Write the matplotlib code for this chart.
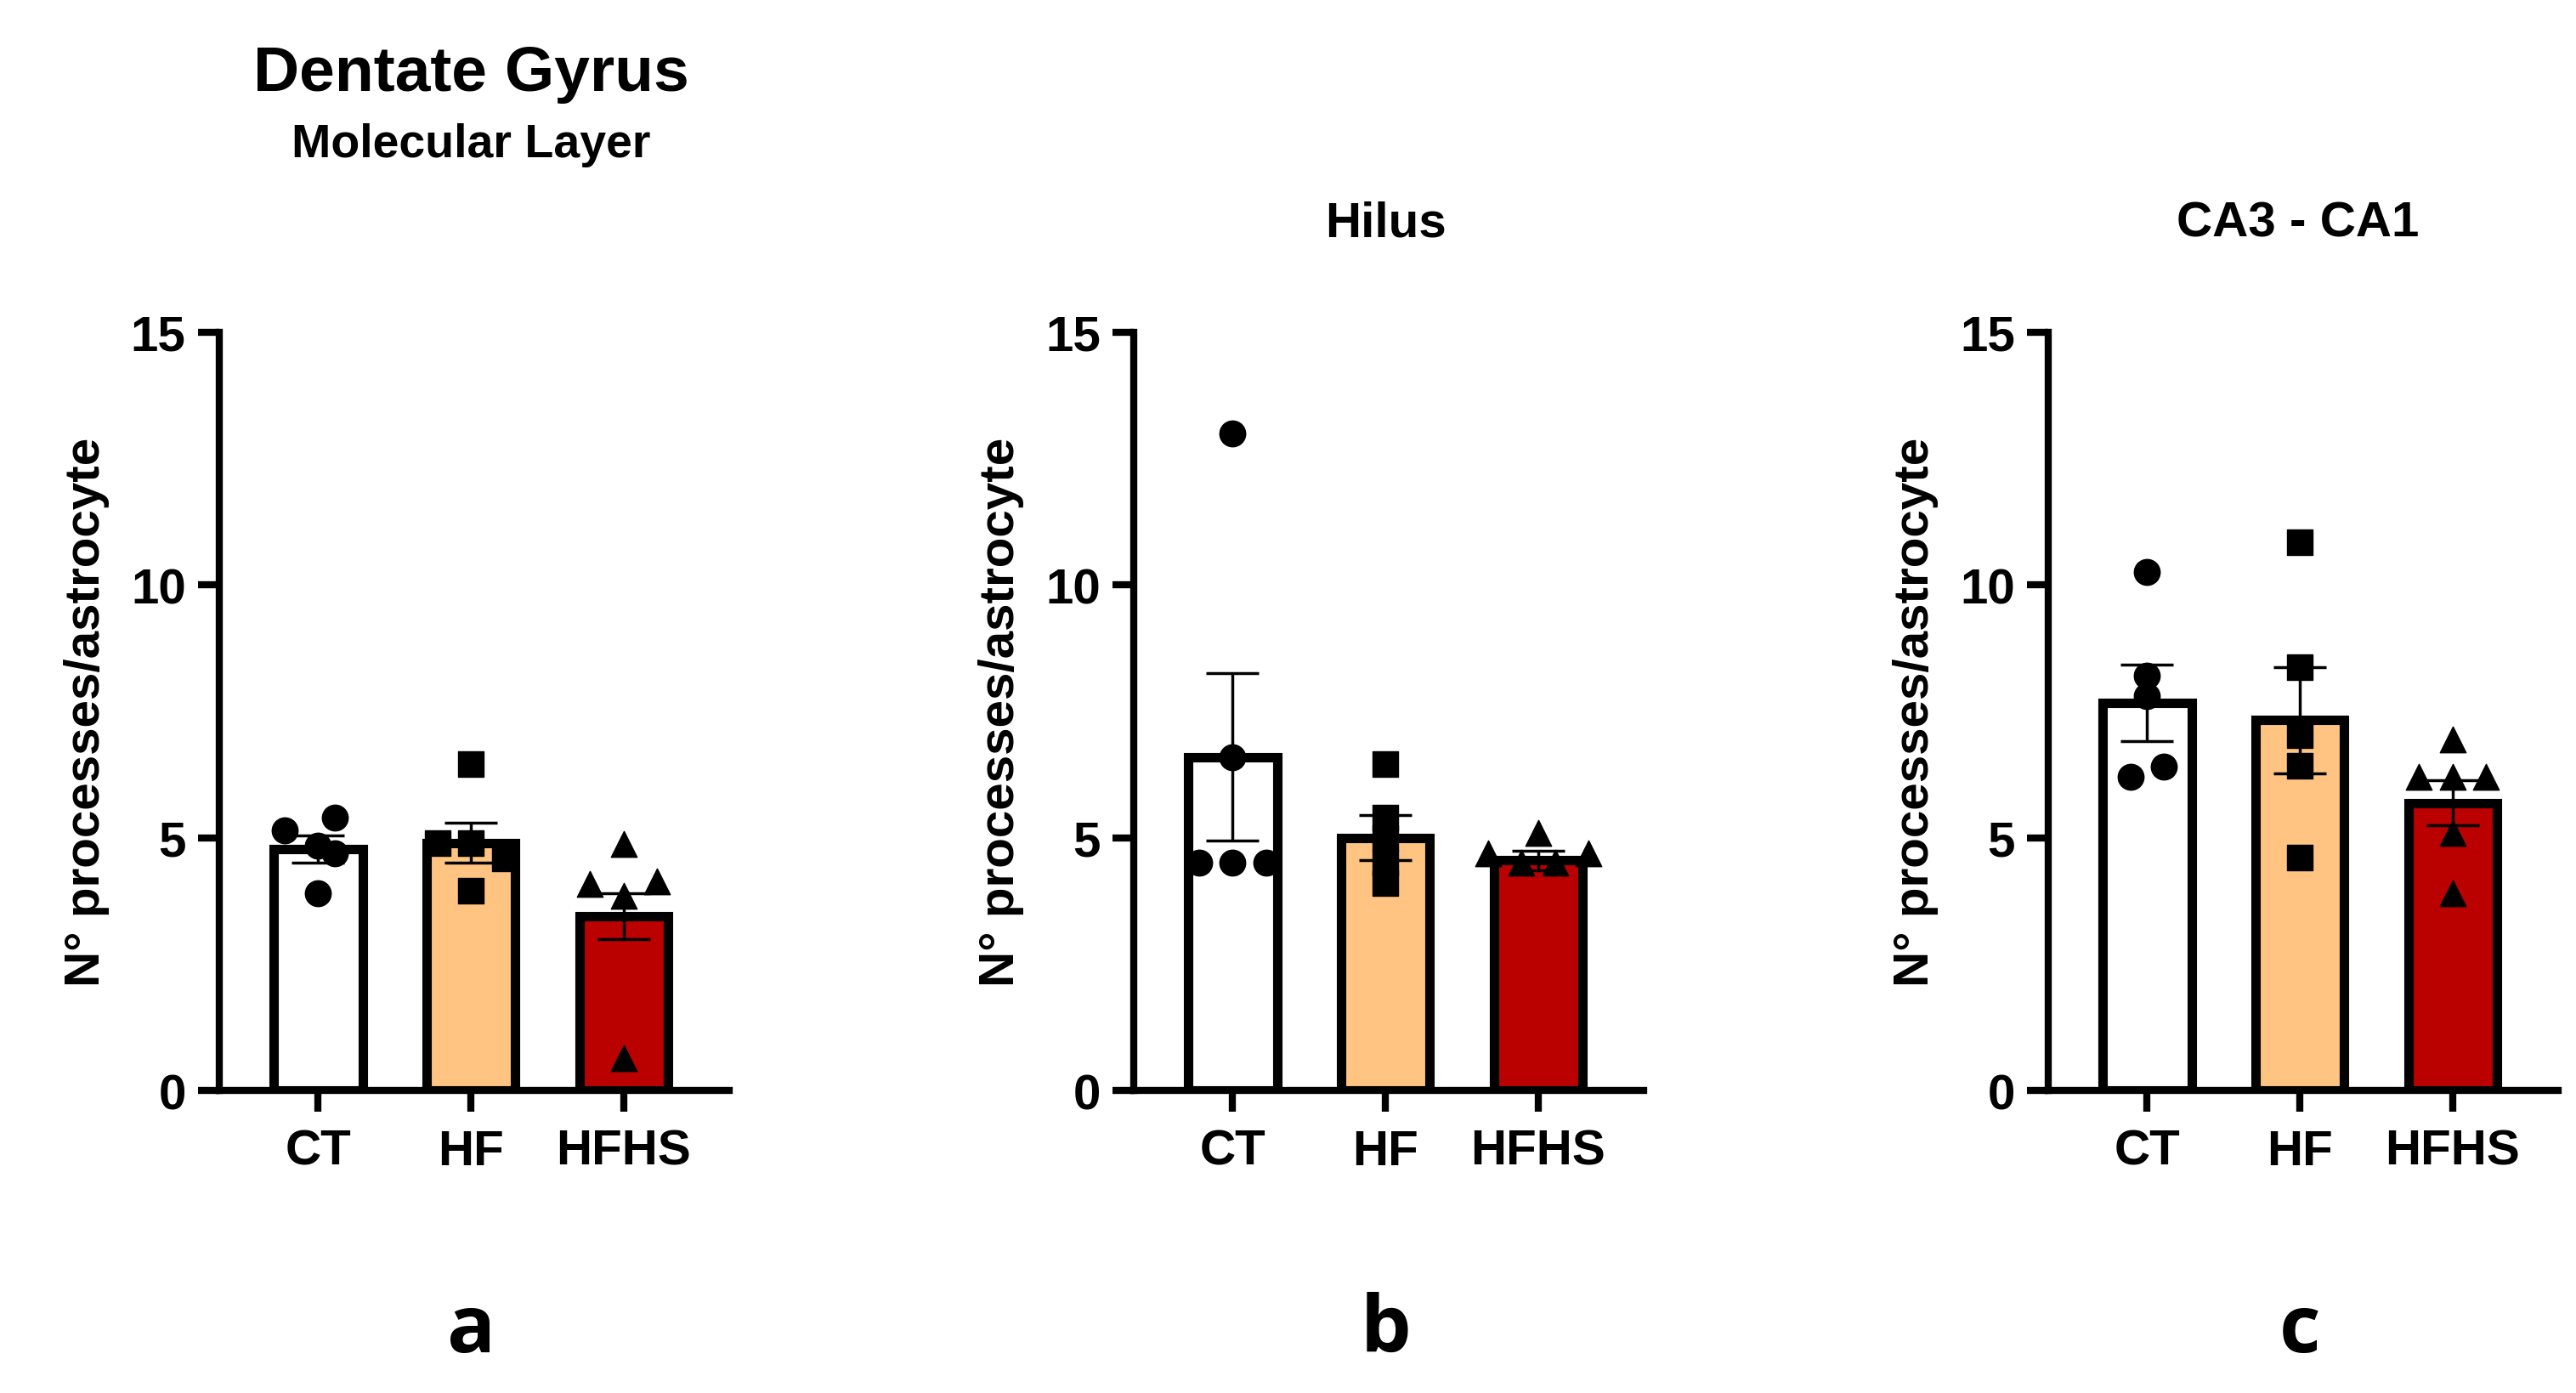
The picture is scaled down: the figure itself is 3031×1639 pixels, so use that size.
import numpy as np
import matplotlib
matplotlib.use('Agg')
import matplotlib.pyplot as plt

groups = ['CT', 'HF', 'HFHS']
colors = ['#ffffff', '#ffc482', '#bb0000']
markers = ['o', 's', '^']

# per panel: individual points, means, sem
a_points = [[5.15, 5.4, 4.85, 3.9, 4.7], [6.45, 4.9, 4.9, 4.6, 3.95], [4.88, 4.08, 3.86, 4.13, 0.64]]
a_mean = [4.77, 4.9, 3.45]
a_sem = [0.27, 0.4, 0.45]

b_points = [[13.0, 6.6, 4.5, 4.5, 4.5], [6.45, 5.4, 5.0, 4.1, 4.5], [5.1, 4.7, 4.5, 4.5, 4.7]]
b_mean = [6.6, 5.0, 4.55]
b_sem = [1.65, 0.45, 0.2]

c_points = [[10.25, 8.2, 7.8, 6.2, 6.4], [10.85, 8.37, 7.03, 6.42, 4.61], [6.95, 6.2, 6.2, 6.2, 5.1, 3.9]]
c_mean = [7.67, 7.33, 5.69]
c_sem = [0.75, 1.05, 0.45]

plt.rcParams['font.family'] = ['Liberation Sans', 'DejaVu Sans']
plt.rcParams['font.weight'] = 'bold'

fig = plt.figure(figsize=(30.31, 16.4), dpi=100)

panels = [(0.085, a_points, a_mean, a_sem, 'a'),
          (0.440, b_points, b_mean, b_sem, 'b'),
          (0.795, c_points, c_mean, c_sem, 'c')]

for left, pts, means, sems, letter in panels:
    ax = fig.add_axes([left, 0.217, 0.198, 0.544])
    x = np.arange(len(groups))
    ax.bar(x, means, width=0.58, color=colors, edgecolor='black', linewidth=8, zorder=2)
    for i in range(len(groups)):
        ax.errorbar(x[i], means[i], yerr=sems[i], color='black', elinewidth=2.5,
                    capsize=22, capthick=2.5, zorder=3)
        p = pts[i]
        offs = np.linspace(-0.22, 0.22, len(p)) if len(p) > 1 else [0]
        # spread points with similar values
        xs = []
        for j, v in enumerate(p):
            near = [k for k in range(len(p)) if abs(p[k] - v) < 0.35]
            if len(near) == 1:
                xs.append(x[i])
            else:
                idx = near.index(j)
                xs.append(x[i] + (idx - (len(near) - 1) / 2) * 0.22)
        ax.scatter(xs, p, marker=markers[i], s=480, color='black', zorder=4, clip_on=False)
    ax.set_xlim(-0.65, 2.69)
    ax.set_ylim(0, 15)
    ax.set_yticks([0, 5, 10, 15])
    ax.set_xticks(x)
    ax.set_xticklabels(groups)
    ax.spines[['top', 'right']].set_visible(False)
    ax.spines['left'].set_linewidth(6)
    ax.spines['bottom'].set_linewidth(6)
    ax.tick_params(width=6, length=18, labelsize=42, pad=10)
    ax.tick_params(axis='x', pad=14)
    ax.set_ylabel('N° processes/astrocyte', fontsize=42, fontweight='bold', labelpad=18)
    cx = left + 0.198 * (0.65 + 1) / 3.34
    fig.text(cx, 0.03, letter, ha='center', fontsize=68, fontweight='bold',
             family=['Open Sans', 'DejaVu Sans'])

fig.text(0.183, 0.935, 'Dentate Gyrus', ha='center', fontsize=54, fontweight='bold')
fig.text(0.183, 0.887, 'Molecular Layer', ha='center', fontsize=40, fontweight='bold')
fig.text(0.538, 0.83, 'Hilus', ha='center', fontsize=42, fontweight='bold')
fig.text(0.892, 0.83, 'CA3 - CA1', ha='center', fontsize=42, fontweight='bold')

fig.savefig('out.png', dpi=100, facecolor='white')
